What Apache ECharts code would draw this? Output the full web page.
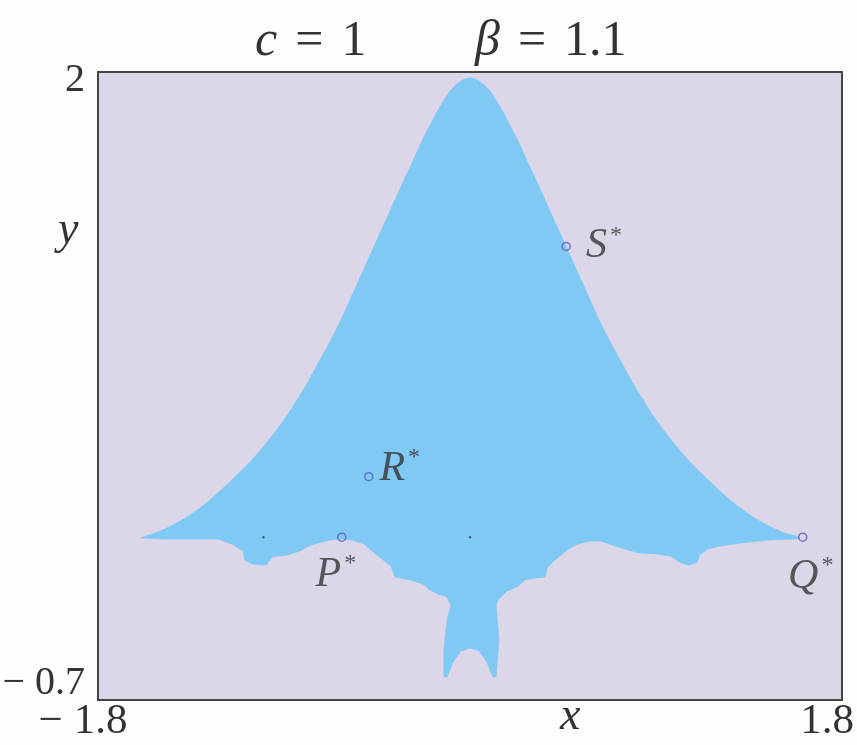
<!DOCTYPE html>
<html>
<head>
<meta charset="utf-8">
<title>Basin of attraction, c = 1, β = 1.1</title>
<script src="https://cdn.jsdelivr.net/npm/echarts@6/dist/echarts.min.js"></script>
<style>
  html, body { margin: 0; padding: 0; background: #fdfdfd; }
  #chart { width: 857px; height: 745px; }
</style>
</head>
<body>
<div id="chart"></div>
<script>
// Axis ranges and tick labels
const xRange = [-1.8, 1.8];
const yRange = [-0.7, 2];
const xTickValues = [-1.8, 1.8];
const xTickLabels = ['\u2212 1.8', '1.8'];
const yTickValues = [-0.7, 2];
const yTickLabels = ['\u2212 0.7', '2'];

// Upper (smooth) edge of the basin, from the left tip over the peak to the right tip
const upperEdge = [
  [-1.590, -0.003], [-1.570, 0.005], [-1.510, 0.022], [-1.437, 0.052], [-1.355, 0.095],
  [-1.258, 0.160], [-1.152, 0.246], [-1.055, 0.332], [-0.973, 0.418], [-0.900, 0.504],
  [-0.837, 0.590], [-0.779, 0.676], [-0.726, 0.762], [-0.673, 0.848], [-0.624, 0.934],
  [-0.581, 1.020], [-0.537, 1.106], [-0.494, 1.192], [-0.450, 1.278], [-0.406, 1.364],
  [-0.363, 1.450], [-0.319, 1.536], [-0.285, 1.600], [-0.252, 1.665], [-0.218, 1.729],
  [-0.179, 1.794], [-0.160, 1.828], [-0.140, 1.858], [-0.116, 1.893], [-0.092, 1.923],
  [-0.063, 1.948], [-0.034, 1.966], [0.000, 1.974],
  [0.034, 1.966], [0.063, 1.948], [0.092, 1.923], [0.116, 1.893], [0.140, 1.858],
  [0.160, 1.828], [0.179, 1.794], [0.218, 1.729], [0.252, 1.665], [0.285, 1.600],
  [0.319, 1.536], [0.363, 1.450], [0.406, 1.364], [0.450, 1.278], [0.494, 1.192],
  [0.537, 1.106], [0.581, 1.020], [0.624, 0.934], [0.673, 0.848], [0.726, 0.762],
  [0.779, 0.676], [0.837, 0.590], [0.900, 0.504], [0.973, 0.418], [1.055, 0.332],
  [1.152, 0.246], [1.258, 0.160], [1.355, 0.095], [1.437, 0.052], [1.510, 0.022],
  [1.573, 0.005], [1.597, -0.003]
];

// Lower (fractal) edge, from the right tip back to the left tip, including the stem
const lowerEdge = [
  [1.58, -0.008], [1.45, -0.012], [1.31, -0.025], [1.21, -0.038], [1.15, -0.051],
  [1.11, -0.077], [1.10, -0.107], [1.06, -0.120], [1.02, -0.111], [0.97, -0.081],
  [0.90, -0.072], [0.82, -0.068], [0.75, -0.051], [0.69, -0.034], [0.63, -0.016],
  [0.58, -0.016], [0.52, -0.029], [0.47, -0.055], [0.435, -0.081], [0.40, -0.107],
  [0.373, -0.132], [0.363, -0.171], [0.314, -0.175], [0.266, -0.184], [0.227, -0.214],
  [0.179, -0.231], [0.135, -0.270], [0.126, -0.292], [0.140, -0.442], [0.126, -0.601],
  [0.111, -0.601], [0.082, -0.537], [0.044, -0.489], [0.000, -0.476], [-0.044, -0.489],
  [-0.082, -0.537], [-0.111, -0.601], [-0.126, -0.601], [-0.126, -0.485], [-0.111, -0.356],
  [-0.092, -0.292], [-0.111, -0.257], [-0.155, -0.244], [-0.194, -0.227], [-0.227, -0.201],
  [-0.290, -0.184], [-0.363, -0.171], [-0.382, -0.124], [-0.426, -0.094], [-0.474, -0.059],
  [-0.513, -0.029], [-0.571, -0.012], [-0.615, -0.008], [-0.677, -0.012], [-0.740, -0.025],
  [-0.789, -0.042], [-0.823, -0.059], [-0.886, -0.077], [-0.958, -0.085], [-0.987, -0.120],
  [-1.055, -0.115], [-1.089, -0.098], [-1.098, -0.059], [-1.152, -0.029], [-1.219, -0.008],
  [-1.355, -0.008], [-1.485, -0.008]
];

// Fixed points and their names
const fixedPoints = [
  { name: 'P', value: [-0.62, 0.0] },
  { name: 'Q', value: [1.61, 0.0] },
  { name: 'R', value: [-0.49, 0.26] },
  { name: 'S', value: [0.465, 1.25] }
];
const smallDots = [[-1.0, 0.0], [0.0, 0.0]];

const serif = '"Liberation Serif", "DejaVu Serif", serif';
const inkColor = '#333333';
const basinColor = '#80c9f4';
const planeColor = '#dbd7e8';

// Label placement for each fixed point (pixel offsets from the marker)
const labelOffsets = { P: [-6, 38], Q: [8, 40], R: [31, -8], S: [38, 0] };

const chart = echarts.init(document.getElementById('chart'), null, { renderer: 'canvas' });

// Outline path: smooth Catmull-Rom curve through the upper edge, straight steps along the lower edge
function outlinePath(up, low) {
  let d = 'M' + up[0][0] + ' ' + up[0][1];
  for (let i = 0; i < up.length - 1; i++) {
    const p0 = up[Math.max(i - 1, 0)];
    const p1 = up[i];
    const p2 = up[i + 1];
    const p3 = up[Math.min(i + 2, up.length - 1)];
    const c1x = p1[0] + (p2[0] - p0[0]) / 6, c1y = p1[1] + (p2[1] - p0[1]) / 6;
    const c2x = p2[0] - (p3[0] - p1[0]) / 6, c2y = p2[1] - (p3[1] - p1[1]) / 6;
    d += 'C' + c1x + ' ' + c1y + ' ' + c2x + ' ' + c2y + ' ' + p2[0] + ' ' + p2[1];
  }
  for (const p of low) d += 'L' + p[0] + ' ' + p[1];
  return d + 'Z';
}

const titleRich = {
  i: { fontFamily: serif, fontStyle: 'italic', fontWeight: 'normal', fontSize: 50, color: inkColor },
  n: { fontFamily: serif, fontWeight: 'normal', fontSize: 50, color: inkColor },
  g: { width: 18 }
};

const option = {
  backgroundColor: '#fdfdfd',
  animation: false,
  title: [
    {
      text: '{i|c}{g|}{n|=}{g|}{n|1}',
      left: 250, top: 12,
      textStyle: { fontWeight: 'normal', rich: titleRich }
    },
    {
      text: '{i|\u03b2}{g|}{n|=}{g|}{n|1.1}',
      left: 470, top: 12,
      textStyle: { fontWeight: 'normal', rich: titleRich }
    }
  ],
  grid: {
    left: 98, right: 15, top: 72, bottom: 45,
    outerBoundsMode: 'none',
    containLabel: false,
    show: true,
    backgroundColor: planeColor,
    borderColor: '#454545',
    borderWidth: 2
  },
  xAxis: {
    type: 'value',
    min: xRange[0], max: xRange[1],
    axisLine: { show: false },
    axisTick: { show: false },
    splitLine: { show: false },
    axisLabel: {
      customValues: xTickValues,
      margin: 0,
      formatter: (v) => {
        const i = xTickValues.findIndex(t => Math.abs(t - v) < 1e-9);
        return '{t|' + xTickLabels[i] + '}{s|}';
      },
      rich: {
        t: { fontFamily: serif, fontSize: 43, color: inkColor },
        s: { width: 30 }
      }
    }
  },
  yAxis: {
    type: 'value',
    min: yRange[0], max: yRange[1],
    axisLine: { show: false },
    axisTick: { show: false },
    splitLine: { show: false },
    axisLabel: {
      customValues: yTickValues,
      margin: 13,
      verticalAlign: 'middle',
      formatter: (v) => {
        const i = yTickValues.findIndex(t => Math.abs(t - v) < 1e-9);
        return (i === 0 ? '{lo|' : '{hi|') + yTickLabels[i] + '}';
      },
      rich: {
        lo: { fontFamily: serif, fontSize: 40, color: inkColor, padding: [0, 0, 34, 0] },
        hi: { fontFamily: serif, fontSize: 40, color: inkColor, padding: [16, 0, 0, 0] }
      }
    }
  },
  graphic: [
    {
      type: 'text', left: 560, top: 694,
      style: { text: 'x', font: 'italic 46px ' + serif, fill: inkColor }
    },
    {
      type: 'text', left: 58, top: 208,
      style: { text: 'y', font: 'italic 46px ' + serif, fill: inkColor }
    }
  ],
  series: [
    {
      type: 'custom',
      coordinateSystem: 'cartesian2d',
      data: [upperEdge[0]],
      silent: true,
      z: 1,
      renderItem: (params, api) => {
        const up = upperEdge.map(p => api.coord(p));
        const low = lowerEdge.map(p => api.coord(p));
        return {
          type: 'path',
          shape: { pathData: outlinePath(up, low) },
          style: { fill: basinColor, stroke: basinColor, lineWidth: 0.8 }
        };
      }
    },
    {
      type: 'scatter',
      data: smallDots,
      symbol: 'circle',
      symbolSize: 2.5,
      itemStyle: { color: '#33406e' },
      z: 3,
      silent: true
    },
    {
      type: 'scatter',
      data: fixedPoints.map(p => ({ name: p.name, value: p.value })),
      symbol: 'circle',
      symbolSize: 8,
      itemStyle: { color: 'rgba(0,0,0,0)', borderColor: '#5a5cc4', borderWidth: 1.6 },
      z: 4,
      silent: true,
      label: {
        show: true,
        position: 'inside',
        formatter: (p) => '{i|' + p.name + '}{s|*}',
        rich: {
          i: { fontFamily: serif, fontStyle: 'italic', fontSize: 42, color: inkColor, lineHeight: 46 },
          s: { fontFamily: serif, fontSize: 24, color: inkColor, verticalAlign: 'top', lineHeight: 46, padding: [0, 0, 14, 3] }
        }
      },
      labelLayout: (params) => {
        const name = fixedPoints[params.dataIndex].name;
        const off = labelOffsets[name];
        return { dx: off[0], dy: off[1] };
      }
    }
  ]
};

chart.setOption(option);
</script>
</body>
</html>
